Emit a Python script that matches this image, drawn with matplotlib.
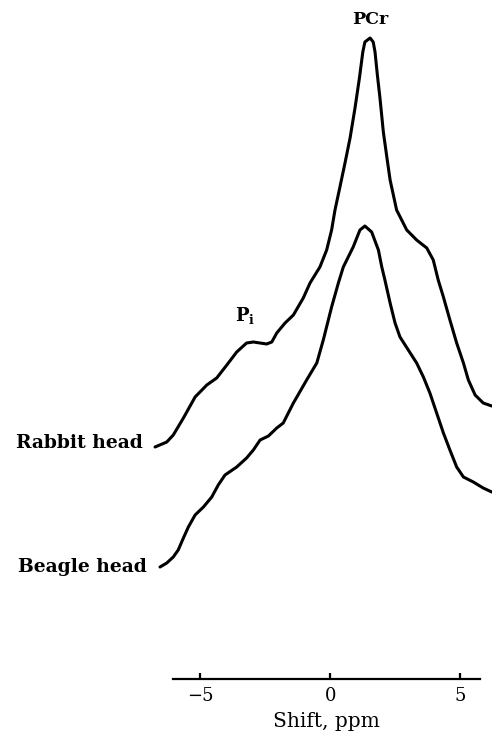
import matplotlib

matplotlib.use("Agg")
import matplotlib.pyplot as plt

# chemical shift (ppm) and intensity (arbitrary units above the axis)
rabbit_ppm = [-6.74, -6.29, -6.04, -5.65, -5.20, -4.75, -4.37, -3.98, -3.60, -3.22,
              -2.96, -2.45, -2.25, -2.06, -1.74, -1.42, -1.04, -0.78, -0.40, -0.14,
              0.05, 0.18, 0.37, 0.565, 0.76, 0.95, 1.12, 1.25, 1.33, 1.53,
              1.65, 1.72, 1.81, 1.91, 2.04, 2.19, 2.30, 2.55, 2.94, 3.32,
              3.71, 3.96, 4.15, 4.35, 4.60, 4.86, 5.12, 5.31, 5.57, 5.88, 6.21]
rabbit_int = [232, 237, 244, 261, 282, 294, 301, 314, 327, 336,
              337, 335, 337, 346, 356, 364, 381, 396, 412, 429,
              449, 469, 492, 516, 541, 571, 601, 627, 637, 641,
              637, 627, 604, 581, 547, 519, 499, 469, 449, 439,
              431, 419, 399, 382, 359, 336, 316, 299, 284, 276, 273]

beagle_ppm = [-6.55, -6.29, -6.04, -5.85, -5.65, -5.46, -5.20, -4.88, -4.56, -4.31,
              -4.05, -3.60, -3.22, -2.96, -2.70, -2.38, -2.06, -1.81, -1.42, -0.91,
              -0.52, -0.27, 0.05, 0.31, 0.50, 0.88, 1.14, 1.33, 1.59, 1.85,
              1.98, 2.10, 2.30, 2.49, 2.68, 3.00, 3.32, 3.58, 3.83, 4.09,
              4.35, 4.60, 4.86, 5.12, 5.50, 5.88, 6.21]
beagle_int = [112, 116, 122, 129, 141, 152, 164, 172, 182, 194,
              204, 212, 221, 229, 239, 243, 251, 256, 276, 299,
              316, 339, 372, 396, 412, 432, 449, 453, 447, 429,
              412, 399, 376, 356, 342, 329, 316, 302, 286, 266,
              246, 229, 212, 202, 197, 191, 187]

tick_values = [-5, 0, 5]
axis_span = (-6.04, 5.75)

plt.rcParams["font.family"] = "DejaVu Serif"
plt.rcParams["mathtext.fontset"] = "dejavuserif"

W, H = 492, 734
xmin, xmax = -6.935, 6.219
fig = plt.figure(figsize=(W / 100, H / 100), dpi=100)
ax = fig.add_axes([150 / W, (H - 679) / H, 342 / W, 679 / H])
ax.set_xlim(xmin, xmax)
ax.set_ylim(0, 679)

line_kw = dict(color="black", linewidth=2.2, solid_joinstyle="round", solid_capstyle="round", clip_on=False)
ax.plot(rabbit_ppm, rabbit_int, **line_kw)
ax.plot(beagle_ppm, beagle_int, **line_kw)

for side in ("top", "right", "left"):
    ax.spines[side].set_visible(False)
ax.spines["bottom"].set_bounds(*axis_span)
ax.spines["bottom"].set_linewidth(1.6)
ax.set_yticks([])
ax.set_xticks(tick_values)
ax.tick_params(axis="x", direction="in", length=4, width=1.6, labelsize=13, pad=6)
ax.set_xlabel("Shift, ppm", fontsize=14.5)
# label sits under the middle of the drawn axis line, not the whole axes box
ax.xaxis.set_label_coords((sum(axis_span) / 2 - xmin) / (xmax - xmin), -0.062)
ax.xaxis.label.set_va("center")

ax.text(-7.20, 236, "Rabbit head", ha="right", va="center", fontsize=13.5, fontweight="bold", clip_on=False)
ax.text(-7.05, 112, "Beagle head", ha="right", va="center", fontsize=13.5, fontweight="bold", clip_on=False)
ax.text(1.53, 659, "PCr", ha="center", va="center", fontsize=12.5, fontweight="bold", clip_on=False)
ax.text(-3.67, 364, r"$\mathbf{P_i}$", ha="left", va="center", fontsize=13, clip_on=False)

fig.savefig("out.png", dpi=100)
